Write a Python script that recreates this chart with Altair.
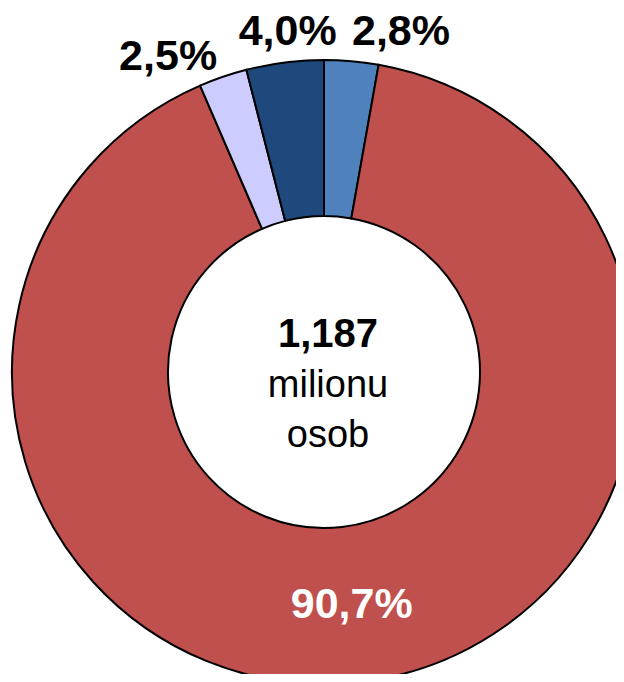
import altair as alt
import pandas as pd

# ---- data ----
categories = ["skupina 1", "skupina 2", "skupina 3", "skupina 4"]
shares = [2.8, 90.7, 2.5, 4.0]
share_labels = ["2,8%", "90,7%", "2,5%", "4,0%"]
slice_order = [1, 2, 3, 4]
slice_colors = ["#4F81BD", "#C0504D", "#CCCCFF", "#1F497D"]
center_lines = ["1,187", "milionu", "osob"]

FONT = "Liberation Sans"
CX, CY = 316, 364
R_OUT, R_IN = 312, 156

df = pd.DataFrame({
    "cat": categories,
    "value": shares,
    "label": share_labels,
    "order": slice_order,
})

base = alt.Chart(df).encode(
    theta=alt.Theta("value:Q", stack=True),
    order=alt.Order("order:Q"),
    x=alt.value(CX),
    y=alt.value(CY),
)

ring = base.mark_arc(
    outerRadius=R_OUT, innerRadius=R_IN, stroke="black", strokeWidth=2
).encode(
    color=alt.Color("cat:N", scale=alt.Scale(domain=categories, range=slice_colors), legend=None)
)


def label_layer(cat, radius, dx, dy, color):
    return base.mark_text(
        radius=radius, dx=dx, dy=dy, font=FONT, fontSize=43, fontWeight="bold",
        color=color, align="center", baseline="alphabetic",
    ).encode(
        text=alt.condition(alt.datum.cat == cat, alt.Text("label:N"), alt.value("")),
        detail="cat:N",
    )


labels = [
    label_layer(categories[0], 330, 48, 2, "black"),
    label_layer(categories[1], 248, -1, 0, "white"),
    label_layer(categories[2], 330, -49, 10, "black"),
    label_layer(categories[3], 330, 5, 0, "black"),
]

cdf1 = pd.DataFrame({"t": [center_lines[0]]})
cdf2 = pd.DataFrame({"t": ["\n".join(center_lines[1:])]})

center_bold = alt.Chart(cdf1).mark_text(
    font=FONT, fontSize=40, fontWeight="bold", color="black",
    align="center", baseline="alphabetic", dx=4, dy=-25,
).encode(text="t:N", x=alt.value(CX), y=alt.value(CY))

center_reg = alt.Chart(cdf2).mark_text(
    font=FONT, fontSize=38, color="black", lineBreak="\n", lineHeight=50,
    align="center", baseline="alphabetic", dx=4, dy=25,
).encode(text="t:N", x=alt.value(CX), y=alt.value(CY))

chart = alt.layer(ring, *labels, center_bold, center_reg).properties(
    width=608, height=666,
    autosize=alt.AutoSizeParams(type="none"),
    padding=0,
    background="white",
).configure_view(stroke=None)

chart.save("out.html", embed_options={"renderer": "svg", "actions": False})
